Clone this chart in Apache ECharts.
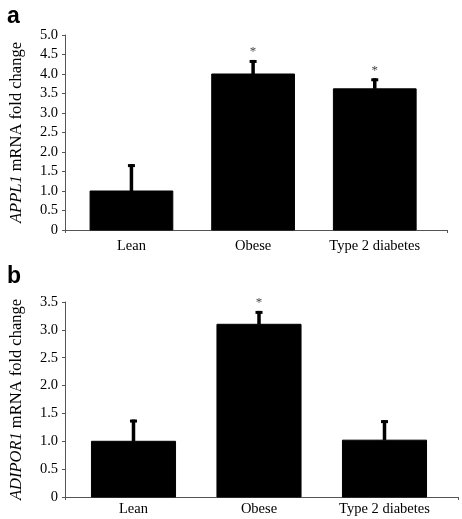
<!DOCTYPE html>
<html>
<head>
<meta charset="utf-8">
<script src="https://cdn.jsdelivr.net/npm/echarts@6/dist/echarts.min.js"></script>
<style>
html,body{margin:0;padding:0;background:#fff;}
#chart{width:462px;height:519px;}
</style>
</head>
<body>
<div id="chart"></div>
<script>
// ---- data ----
const categories = ['Lean', 'Obese', 'Type 2 diabetes'];
// panel a: APPL1
const applMean = [1.0, 4.0, 3.62];
const applUpper = [1.69, 4.36, 3.89];
const applSig = ['', '*', '*'];
const applTicks = [0, 5, 0.5];
// panel b: ADIPOR1
const adipoMean = [1.0, 3.1, 1.02];
const adipoUpper = [1.39, 3.34, 1.38];
const adipoSig = ['', '*', ''];
const adipoTicks = [0, 3.5, 0.5];

const serif = 'Liberation Serif, Times New Roman, serif';
const axisCol = '#555';

function errRender(sig) {
  return function (params, api) {
    const i = api.value(0), mean = api.value(1), hi = api.value(2);
    const base = api.coord([i, mean]);
    const top = api.coord([i, hi]);
    const children = [
      { type: 'rect', shape: { x: base[0] - 1.75, y: top[1], width: 3.5, height: base[1] - top[1] }, style: { fill: '#000' } },
      { type: 'rect', shape: { x: top[0] - 3.5, y: top[1], width: 7, height: 3 }, style: { fill: '#000' } }
    ];
    const s = sig[params.dataIndex];
    if (s) {
      children.push({ type: 'text', x: top[0], y: top[1] - 8, style: { text: s, fill: '#444', font: '13px ' + serif, align: 'center', verticalAlign: 'middle' } });
    }
    return { type: 'group', children: children };
  };
}

function frameX(gi) {
  return { gridIndex: gi, type: 'value', min: 0, max: 1, interval: 1,
    axisLine: { show: true, lineStyle: { color: axisCol, width: 1 } },
    axisTick: { show: true, length: 3, lineStyle: { color: axisCol } },
    axisLabel: { show: false }, splitLine: { show: false } };
}
function catX(gi, margin) {
  return { gridIndex: gi, type: 'category', data: categories,
    axisLine: { show: false }, axisTick: { show: false }, splitLine: { show: false },
    axisLabel: { color: '#000', fontFamily: serif, fontSize: 14.5, margin: margin, interval: 0 } };
}
function valY(gi, t, name) {
  return { gridIndex: gi, type: 'value', min: t[0], max: t[1], interval: t[2],
    axisLine: { show: true, lineStyle: { color: axisCol, width: 1 } },
    axisTick: { show: true, length: 3, lineStyle: { color: axisCol } },
    splitLine: { show: false },
    axisLabel: { color: '#000', fontFamily: serif, fontSize: 14.5, margin: 7,
      formatter: v => v === 0 ? '0' : v.toFixed(1) },
    name: name, nameLocation: 'middle', nameGap: 40,
    nameTextStyle: { color: '#000', fontFamily: serif, fontSize: 16.5,
      rich: { i: { fontStyle: 'italic', fontFamily: serif, fontSize: 16.5, color: '#000' },
              r: { fontFamily: serif, fontSize: 16.5, color: '#000' } } } };
}
function hiddenY(gi, t) {
  return { gridIndex: gi, type: 'value', min: t[0], max: t[1], interval: t[2], show: false, splitLine: { show: false } };
}

const chart = echarts.init(document.getElementById('chart'), null, { renderer: 'canvas' });
chart.setOption({
  animation: false,
  backgroundColor: '#fff',
  title: [
    { text: 'a', left: 2, top: 0, textStyle: { fontFamily: 'Liberation Sans, Arial, sans-serif', fontWeight: 'bold', fontSize: 23, color: '#000' } },
    { text: 'b', left: 2, top: 260, textStyle: { fontFamily: 'Liberation Sans, Arial, sans-serif', fontWeight: 'bold', fontSize: 23, color: '#000' } }
  ],
  grid: [
    { left: 58, top: 35, width: 389, height: 195 },
    { left: 70.6, top: 35, width: 365, height: 195 },
    { left: 58, top: 302, width: 400, height: 195 },
    { left: 70.75, top: 302, width: 376.5, height: 195 }
  ],
  xAxis: [frameX(0), catX(1, 9), frameX(2), catX(3, 5)],
  yAxis: [
    valY(0, applTicks, '{i|APPL1}{r| mRNA fold change}'),
    hiddenY(1, applTicks),
    valY(2, adipoTicks, '{i|ADIPOR1}{r| mRNA fold change}'),
    hiddenY(3, adipoTicks)
  ],
  series: [
    { type: 'bar', xAxisIndex: 1, yAxisIndex: 1, data: applMean, barWidth: '68%',
      itemStyle: { color: '#000', borderColor: '#000' } },
    { type: 'custom', xAxisIndex: 1, yAxisIndex: 1, renderItem: errRender(applSig),
      encode: { x: 0, y: [1, 2] }, z: 5,
      data: categories.map((c, i) => [i, applMean[i], applUpper[i]]) },
    { type: 'bar', xAxisIndex: 3, yAxisIndex: 3, data: adipoMean, barWidth: '67%',
      itemStyle: { color: '#000', borderColor: '#000' } },
    { type: 'custom', xAxisIndex: 3, yAxisIndex: 3, renderItem: errRender(adipoSig),
      encode: { x: 0, y: [1, 2] }, z: 5,
      data: categories.map((c, i) => [i, adipoMean[i], adipoUpper[i]]) }
  ]
});
</script>
</body>
</html>
